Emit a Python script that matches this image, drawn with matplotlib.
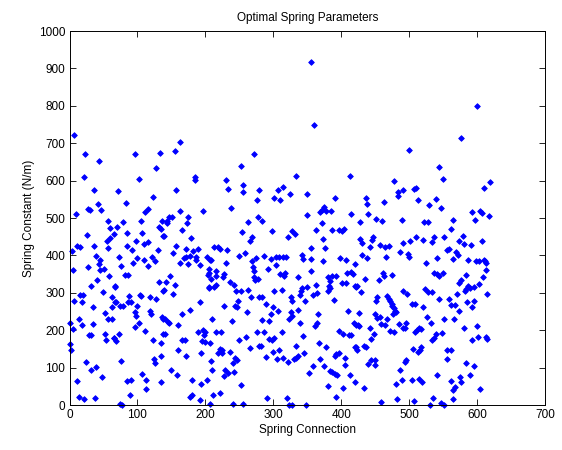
import matplotlib
matplotlib.use("Agg")
import matplotlib.pyplot as plt

# spring connection index (x) and optimal spring constant (y)
connection = [
    7, 23, 44, 21, 36, 42, 9, 27, 30, 47, 57, 60, 65, 25, 60, 55, 56, 11, 16, 3, 36, 39, 45, 43, 5, 27, 45, 51, 58, 41, 67, 31, 50, 15, 20, 7, 18, 63, 67, 34, 63, 52, 57, 62, 14, 1, 18, 34, 5, 28, 32, 52, 53, 66, 1, 2, 24, 31, 39, 48, 11, 14, 22, 38,
    96, 133, 128, 102, 71, 83, 123, 116, 111, 79, 105, 131, 134, 70, 84, 107, 138, 98, 115, 109, 84, 130, 92, 73, 100, 121, 126, 94, 110, 76, 115, 81, 86, 67, 131, 138, 88, 104, 105, 118, 128, 69, 74, 78, 86, 91, 100, 96, 98, 119, 120, 138, 102, 97, 111, 73, 66, 68, 123, 134, 138, 76, 124, 126, 135, 107, 113, 85, 91, 135, 113, 89, 75, 77,
    163, 155, 184, 184, 157, 163, 197, 146, 151, 143, 175, 173, 136, 144, 165, 139, 179, 157, 152, 171, 182, 189, 162, 168, 171, 177, 186, 186, 202, 207, 174, 192, 206, 204, 206, 148, 142, 139, 155, 152, 192, 178, 166, 136, 140, 146, 145, 160, 140, 189, 197, 199, 198, 165, 170, 195, 199, 207, 160, 171, 194, 208, 150, 158, 181, 202, 194, 181, 178, 192, 207,
    271, 253, 231, 234, 256, 255, 279, 276, 237, 277, 263, 254, 268, 266, 213, 218, 222, 232, 209, 231, 250, 258, 274, 269, 270, 271, 272, 278, 273, 215, 206, 216, 209, 227, 226, 216, 213, 206, 236, 242, 245, 252, 263, 267, 279, 248, 227, 244, 247, 262, 210, 239, 216, 223, 276, 260, 250, 279, 265, 221, 224, 219, 225, 236, 244, 247, 240, 210, 229, 233, 227, 242, 252, 221, 211, 241, 256,
    334, 315, 307, 310, 324, 301, 350, 350, 284, 298, 328, 332, 321, 286, 296, 304, 309, 314, 319, 342, 344, 292, 304, 310, 317, 316, 336, 350, 342, 341, 340, 301, 313, 283, 289, 326, 328, 347, 300, 297, 307, 326, 327, 337, 284, 294, 323, 339, 286, 313, 344, 293, 301, 298, 282, 334, 299, 308, 289, 305, 314, 321, 330, 334, 337, 345, 291, 320, 323, 328,
    356, 360, 413, 391, 374, 371, 369, 377, 385, 415, 371, 363, 386, 396, 401, 404, 373, 356, 376, 355, 373, 398, 407, 355, 381, 386, 393, 384, 409, 414, 418, 401, 407, 363, 365, 358, 382, 380, 384, 420, 389, 410, 366, 364, 362, 419, 397, 402, 411, 415, 367, 378, 420, 397, 393, 391, 405, 405, 368, 359, 353, 375, 383, 387, 391, 394, 413, 420, 381, 402, 393, 348,
    478, 484, 484, 491, 436, 438, 463, 440, 451, 460, 428, 489, 491, 428, 447, 445, 471, 431, 442, 457, 465, 486, 438, 431, 466, 462, 463, 456, 475, 435, 423, 422, 429, 420, 491, 453, 451, 468, 470, 472, 474, 475, 477, 479, 476, 481, 426, 449, 453, 457, 468, 421, 425, 426, 459, 464, 442, 485, 472, 477, 448, 444, 491, 421, 423, 433, 437, 444, 450, 440, 449, 487, 490, 480, 433, 482, 459,
    500, 544, 550, 507, 510, 513, 539, 529, 547, 522, 527, 562, 510, 501, 537, 534, 552, 521, 498, 500, 555, 558, 541, 525, 536, 541, 544, 550, 497, 523, 527, 533, 544, 559, 561, 504, 508, 521, 526, 532, 552, 496, 494, 511, 514, 517, 509, 539, 537, 534, 548, 518, 516, 513, 505, 556, 562, 555, 496, 494, 541, 504, 514, 519, 562, 507, 535, 531, 547, 552,
    600, 577, 610, 619, 592, 605, 607, 597, 617, 564, 579, 574, 581, 591, 607, 569, 572, 564, 587, 599, 603, 610, 611, 613, 613, 584, 609, 577, 574, 603, 587, 589, 595, 584, 582, 615, 571, 585, 595, 568, 573, 593, 566, 580, 600, 592, 602, 613, 614, 584, 596, 589, 575, 577, 568, 564, 605, 565,
]
spring_constant = [
    721, 670, 652, 610, 575, 538, 511, 525, 522, 521, 493, 472, 458, 454, 446, 438, 420, 424, 422, 411, 424, 398, 387, 378, 361, 368, 361, 364, 344, 334, 317, 317, 301, 295, 295, 279, 275, 288, 275, 261, 261, 246, 230, 230, 231, 220, 214, 217, 204, 188, 188, 189, 173, 179, 163, 146, 115, 94, 102, 75, 65, 21, 15, 18,
    671, 674, 634, 604, 571, 540, 556, 524, 517, 490, 493, 475, 471, 475, 460, 460, 453, 438, 435, 430, 425, 414, 414, 396, 394, 396, 386, 379, 387, 373, 371, 348, 348, 316, 328, 306, 292, 295, 291, 288, 284, 275, 265, 265, 276, 275, 265, 248, 237, 252, 244, 230, 218, 209, 198, 189, 179, 171, 175, 167, 190, 118, 123, 111, 131, 82, 67, 65, 66, 62, 44, 27, 2, 0,
    704, 680, 609, 602, 574, 519, 519, 502, 502, 487, 502, 486, 493, 493, 469, 451, 446, 425, 407, 417, 413, 417, 381, 392, 395, 399, 397, 387, 396, 387, 376, 374, 364, 348, 315, 344, 330, 308, 321, 296, 275, 254, 244, 234, 230, 219, 223, 214, 190, 196, 201, 196, 188, 174, 174, 172, 168, 167, 146, 131, 138, 118, 94, 80, 66, 66, 55, 27, 21, 13, 3,
    671, 640, 601, 578, 587, 569, 575, 548, 528, 504, 490, 463, 449, 438, 422, 422, 418, 414, 388, 379, 399, 407, 393, 384, 368, 359, 341, 338, 333, 357, 353, 344, 338, 350, 342, 321, 316, 314, 329, 321, 305, 305, 307, 289, 289, 278, 265, 264, 262, 250, 230, 225, 196, 194, 194, 182, 173, 159, 152, 150, 146, 138, 140, 143, 125, 119, 112, 94, 94, 85, 78, 88, 53, 31, 26, 2, 2,
    613, 584, 574, 548, 564, 554, 563, 507, 493, 464, 464, 458, 448, 399, 391, 395, 395, 395, 395, 402, 390, 364, 375, 351, 354, 344, 341, 316, 314, 304, 295, 305, 307, 290, 270, 288, 277, 279, 261, 243, 252, 250, 239, 254, 228, 225, 231, 220, 194, 194, 185, 176, 179, 174, 159, 158, 143, 148, 129, 122, 125, 114, 122, 127, 131, 138, 18, 18, 0, 0,
    918, 748, 613, 554, 530, 522, 515, 519, 519, 511, 487, 467, 467, 469, 466, 471, 443, 419, 419, 391, 384, 393, 388, 357, 341, 344, 346, 332, 353, 355, 351, 325, 325, 320, 300, 294, 317, 306, 312, 317, 282, 252, 243, 219, 212, 218, 199, 190, 188, 188, 165, 154, 154, 140, 137, 131, 125, 107, 123, 105, 85, 103, 92, 88, 83, 80, 79, 62, 52, 46, 21, 0,
    598, 570, 560, 574, 554, 537, 543, 511, 498, 493, 489, 496, 434, 443, 448, 442, 424, 432, 422, 427, 423, 409, 393, 400, 395, 352, 345, 334, 348, 338, 319, 315, 302, 377, 305, 288, 279, 292, 284, 277, 271, 266, 259, 252, 243, 250, 246, 244, 232, 234, 230, 214, 213, 212, 216, 213, 207, 217, 199, 196, 189, 176, 207, 154, 146, 159, 154, 121, 121, 109, 107, 94, 67, 56, 46, 16, 8,
    683, 636, 604, 578, 580, 547, 552, 534, 528, 490, 490, 470, 449, 438, 448, 436, 448, 440, 405, 396, 415, 416, 393, 381, 353, 350, 345, 353, 296, 309, 301, 301, 284, 284, 268, 271, 271, 263, 234, 218, 229, 219, 205, 201, 205, 203, 195, 189, 180, 174, 192, 156, 147, 143, 149, 146, 146, 123, 121, 114, 80, 68, 70, 62, 64, 11, 20, 0, 5, 0,
    800, 715, 580, 596, 515, 518, 513, 496, 506, 495, 451, 438, 431, 428, 438, 408, 402, 391, 388, 384, 384, 389, 384, 381, 361, 348, 341, 335, 326, 323, 319, 312, 316, 310, 306, 296, 296, 275, 278, 268, 251, 262, 231, 205, 212, 173, 181, 182, 176, 113, 105, 79, 74, 62, 49, 40, 42, 16,
]

plt.rcParams["font.family"] = ["Liberation Sans", "DejaVu Sans"]
plt.rcParams["font.size"] = 8

fig = plt.figure(figsize=(5.62, 4.5), dpi=100)
ax = fig.add_axes([0.1237, 0.1, 0.8461, 0.831])

ax.plot(connection, spring_constant, linestyle="none", marker="D",
        markersize=2.9, color="#0000ff", markeredgewidth=0.6, clip_on=False)

ax.set_xlim(0, 700)
ax.set_ylim(0, 1000)
ax.set_xticks(range(0, 701, 100))
ax.set_yticks(range(0, 1001, 100))
ax.tick_params(direction="in", top=True, right=True, length=4, width=0.6,
               labelsize=8.5, pad=3)
for s in ax.spines.values():
    s.set_linewidth(0.7)

ax.set_title("Optimal Spring Parameters", fontsize=8.5, pad=7)
ax.set_xlabel("Spring Connection", fontsize=8.5, labelpad=2)
ax.set_ylabel("Spring Constant (N/m)", fontsize=8.5, labelpad=3)

fig.savefig("out.png", dpi=100, facecolor="white")
